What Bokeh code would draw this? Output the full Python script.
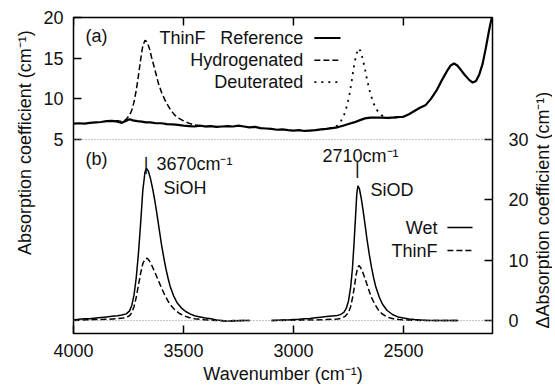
import math
from bokeh.plotting import figure
from bokeh.layouts import row
from bokeh.models import Range1d, LinearAxis, FixedTicker, Span
from bokeh.embed import file_html
from bokeh.resources import INLINE
from bokeh.core.properties import value

FONT = "Liberation Sans"
FS = "18px"

# ---------------- data ----------------
# Panel (a): absorption coefficient (cm^-1), left axis
ref_wn = [4000, 3975, 3950, 3925, 3900, 3875, 3850, 3825, 3800, 3780, 3760, 3745, 3730, 3710,
          3690, 3670, 3650, 3625, 3600, 3575, 3550, 3525, 3500, 3475, 3450, 3425, 3400, 3375,
          3350, 3325, 3300, 3275, 3250, 3225, 3200, 3175, 3150, 3125, 3100, 3075, 3050, 3025,
          3000, 2975, 2950, 2925, 2900, 2875, 2850, 2825, 2800, 2775, 2750, 2725, 2700, 2675,
          2650, 2625, 2600, 2575, 2550, 2525, 2500, 2475, 2450, 2425, 2400, 2375, 2350, 2325,
          2300, 2285, 2270, 2255, 2240, 2220, 2200, 2185, 2170, 2155, 2140, 2125, 2110, 2100, 2095]
ref_val = [6.95, 7.0, 6.95, 7.05, 7.1, 7.15, 7.25, 7.3, 7.2, 7.05, 7.3, 7.5, 7.35, 7.25,
           7.2, 7.1, 7.1, 7.0, 7.0, 6.9, 6.85, 6.8, 6.7, 6.65, 6.6, 6.7, 6.6, 6.65,
           6.55, 6.6, 6.65, 6.6, 6.7, 6.6, 6.5, 6.55, 6.4, 6.35, 6.3, 6.2, 6.25, 6.15,
           6.1, 6.15, 6.05, 6.1, 6.15, 6.25, 6.3, 6.4, 6.5, 6.7, 6.9, 7.1, 7.35, 7.6,
           7.7, 7.7, 7.7, 7.65, 7.7, 7.75, 7.8, 8.1, 8.5, 8.9, 9.2, 10.0, 11.0, 12.3,
           13.5, 14.1, 14.35, 14.1, 13.6, 12.9, 12.3, 12.0, 12.2, 13.0, 14.3, 16.3, 18.5, 19.8, 20.5]

hyd_wn = [3850, 3825, 3800, 3775, 3760, 3745, 3735, 3725, 3715, 3705, 3695, 3685, 3675, 3665,
          3655, 3645, 3630, 3615, 3600, 3580, 3560, 3540, 3520, 3500, 3475, 3450, 3425, 3400, 3375]
hyd_val = [7.25, 7.3, 7.3, 7.2, 7.5, 8.0, 8.6, 9.6, 11.0, 12.8, 14.8, 16.5, 17.2, 17.0,
           16.2, 15.1, 13.6, 12.0, 10.8, 9.6, 8.7, 8.0, 7.6, 7.3, 7.0, 6.8, 6.7, 6.6, 6.65]

deu_wn = [2900, 2875, 2850, 2825, 2800, 2785, 2770, 2755, 2745, 2735, 2725, 2715, 2705, 2695,
          2685, 2675, 2665, 2650, 2635, 2620, 2600, 2580, 2560, 2540, 2500]
deu_val = [6.15, 6.25, 6.3, 6.45, 6.7, 7.2, 8.0, 9.3, 10.6, 12.2, 14.0, 15.4, 16.2, 15.9,
           14.9, 13.7, 12.3, 10.6, 9.4, 8.6, 8.0, 7.7, 7.6, 7.7, 7.8]

# Panel (b): delta absorption coefficient (cm^-1), right axis
wet_oh_wn = [4000, 3975, 3950, 3925, 3900, 3875, 3850, 3825, 3800, 3780, 3760, 3745, 3735, 3725,
             3715, 3705, 3695, 3685, 3675, 3668, 3660, 3650, 3640, 3630, 3620, 3610, 3600, 3590,
             3580, 3570, 3560, 3545, 3530, 3510, 3490, 3470, 3450, 3425, 3400, 3375, 3350, 3325,
             3300, 3275, 3250, 3225, 3200]
wet_oh_val = [0.1, 0.2, 0.3, 0.3, 0.4, 0.5, 0.6, 0.7, 0.8, 0.9, 1.1, 1.6, 2.5, 4.2,
              7.0, 11.0, 16.0, 21.5, 24.6, 25.2, 24.8, 23.5, 21.8, 19.8, 17.5, 15.0, 12.6, 10.5,
              8.6, 7.0, 5.6, 4.1, 3.0, 2.1, 1.5, 1.1, 0.8, 0.6, 0.4, 0.3, 0.1, 0.0,
              -0.1, 0.0, -0.05, 0.0, 0.0]

thin_oh_wn = [4000, 3950, 3900, 3850, 3800, 3775, 3760, 3745, 3735, 3725, 3715, 3705, 3695, 3685,
              3675, 3665, 3655, 3645, 3630, 3615, 3600, 3585, 3570, 3555, 3540, 3520, 3500, 3475,
              3450, 3425, 3400, 3350, 3300, 3250, 3200]
thin_oh_val = [0.0, 0.1, 0.15, 0.2, 0.3, 0.4, 0.5, 0.8, 1.3, 2.3, 3.8, 5.8, 7.8, 9.4,
               10.2, 10.3, 9.9, 9.2, 8.0, 6.7, 5.4, 4.2, 3.2, 2.4, 1.8, 1.2, 0.8, 0.5,
               0.3, 0.2, 0.1, 0.0, -0.1, 0.0, 0.0]

wet_od_wn = [3100, 3075, 3050, 3025, 3000, 2975, 2950, 2925, 2900, 2875, 2850, 2825, 2800, 2785,
             2770, 2760, 2750, 2740, 2732, 2725, 2718, 2712, 2707, 2700, 2692, 2684, 2675, 2665,
             2655, 2645, 2635, 2625, 2610, 2595, 2575, 2550, 2525, 2500, 2475, 2450, 2425, 2400,
             2350, 2300, 2250]
wet_od_val = [0.0, 0.05, 0.1, 0.1, 0.15, 0.2, 0.3, 0.35, 0.45, 0.55, 0.65, 0.75, 0.85, 1.0,
              1.4, 2.0, 3.2, 5.5, 8.5, 12.5, 17.0, 21.0, 22.3, 21.8, 20.3, 18.4, 16.0, 13.3,
              10.9, 8.8, 7.0, 5.5, 3.9, 2.7, 1.7, 1.0, 0.6, 0.4, 0.25, 0.15, 0.1, 0.05,
              0.0, 0.0, 0.0]

thin_od_wn = [3100, 3000, 2900, 2850, 2800, 2780, 2765, 2750, 2740, 2730, 2722, 2715, 2708, 2702,
              2695, 2685, 2675, 2665, 2655, 2645, 2630, 2615, 2600, 2580, 2560, 2540, 2520, 2500,
              2450, 2400, 2300, 2250]
thin_od_val = [0.0, 0.05, 0.1, 0.15, 0.25, 0.4, 0.7, 1.3, 2.3, 4.0, 5.8, 7.6, 8.8, 9.1,
               8.8, 8.0, 7.0, 5.9, 4.8, 3.8, 2.7, 1.8, 1.2, 0.7, 0.4, 0.25, 0.15, 0.1,
               0.05, 0.0, 0.0, 0.0]

x_ticks = [4000, 3500, 3000, 2500]
left_ticks = [5, 10, 15, 20]
right_ticks = [0, 10, 20, 30]
peak_oh = 3670
peak_od = 2710

x_title = "Wavenumber (cm⁻¹)"
left_title = "Absorption coefficient (cm⁻¹)"
right_title = "ΔAbsorption coefficient (cm⁻¹)"

X_RANGE = (4000, 2095)
YB_RANGE = (-2.15, 50.2)     # panel (b) / right axis
YA_RANGE = (-18.85, 20)      # panel (a) / left axis
H = 389

# ---------------- main figure ----------------
p = figure(width=496, height=H, x_range=Range1d(*X_RANGE), y_range=Range1d(*YB_RANGE),
           x_axis_location=None, y_axis_location=None, toolbar_location=None,
           output_backend="svg", min_border_left=37, min_border_right=40,
           min_border_top=17, min_border_bottom=56)
p.extra_y_ranges = {"a": Range1d(*YA_RANGE)}
p.outline_line_color = "black"
p.outline_line_width = 1.5
p.background_fill_color = "white"
p.border_fill_color = "white"
p.xgrid.grid_line_color = None
p.ygrid.grid_line_color = None


def style(ax):
    ax.axis_line_color = None
    ax.major_tick_in = 8
    ax.major_tick_out = 0
    ax.major_tick_line_width = 1.5
    ax.major_tick_line_color = "black"
    ax.minor_tick_line_color = None
    ax.major_label_text_font = FONT
    ax.major_label_text_font_size = FS
    ax.major_label_text_color = "#111111"
    ax.axis_label_text_font = FONT
    ax.axis_label_text_font_size = FS
    ax.axis_label_text_font_style = "normal"
    ax.axis_label_text_color = "#111111"


bottom = LinearAxis(ticker=FixedTicker(ticks=x_ticks), axis_label=x_title)
style(bottom)
bottom.major_label_standoff = 10
bottom.axis_label_standoff = 4
p.add_layout(bottom, "below")

left = LinearAxis(y_range_name="a", ticker=FixedTicker(ticks=left_ticks))
style(left)
left.major_label_standoff = 10
p.add_layout(left, "left")

right = LinearAxis(ticker=FixedTicker(ticks=right_ticks))
style(right)
right.major_label_standoff = 16
p.add_layout(right, "right")

# top-edge tick marks (mirror of bottom ticks, 8 px long)
tick_len = 8 * (YB_RANGE[1] - YB_RANGE[0]) / 316
p.segment(x0=x_ticks, x1=x_ticks, y0=[YB_RANGE[1]] * len(x_ticks),
          y1=[YB_RANGE[1] - tick_len] * len(x_ticks), line_color="black", line_width=1.5)

# separators
p.add_layout(Span(location=30, dimension="width", line_color="#888888",
                  line_dash="1 2", line_width=1))
p.add_layout(Span(location=0, dimension="width", line_color="#888888",
                  line_dash="1 2", line_width=1))

# panel (a) curves
p.line(ref_wn, ref_val, y_range_name="a", line_color="black", line_width=2.2)
p.line(hyd_wn, hyd_val, y_range_name="a", line_color="black", line_width=1.5, line_dash="6 3")
p.line(deu_wn, deu_val, y_range_name="a", line_color="black", line_width=1.8, line_dash="2 5")

# panel (b) curves
p.line(wet_oh_wn, wet_oh_val, line_color="black", line_width=1.5)
p.line(thin_oh_wn, thin_oh_val, line_color="black", line_width=1.5, line_dash="6 3")
p.line(wet_od_wn, wet_od_val, line_color="black", line_width=1.5)
p.line(thin_od_wn, thin_od_val, line_color="black", line_width=1.5, line_dash="6 3")


def txt(fig, x, y, s, align="left", angle=0.0):
    fig.text(x=[x], y=[y], text=[s], text_font=value(FONT), text_font_size=FS,
             text_align=align, text_baseline="middle", text_color="#111111", angle=angle)


# panel labels
txt(p, 3945, 47.1, "(a)")
txt(p, 3945, 26.7, "(b)")

# legend (a)
txt(p, 3400, 46.8, "ThinF", align="right")
txt(p, 2955, 46.8, "Reference", align="right")
txt(p, 2955, 43.1, "Hydrogenated", align="right")
txt(p, 2955, 39.5, "Deuterated", align="right")
p.line([2905, 2786], [46.8, 46.8], line_color="black", line_width=2.2)
p.line([2905, 2786], [43.1, 43.1], line_color="black", line_width=1.5, line_dash="6 3")
p.line([2905, 2786], [39.5, 39.5], line_color="black", line_width=1.8, line_dash="2 5")

# legend (b)
txt(p, 2345, 15.4, "Wet", align="right")
txt(p, 2345, 11.6, "ThinF", align="right")
p.line([2300, 2186], [15.4, 15.4], line_color="black", line_width=1.5)
p.line([2300, 2186], [11.6, 11.6], line_color="black", line_width=1.5, line_dash="6 3")

# peak annotations
txt(p, peak_oh, 26.0, "|", align="center")
txt(p, 3623, 26.0, "3670cm⁻¹")
txt(p, 3591, 21.9, "SiOH")
txt(p, 2695, 27.2, "2710cm⁻¹", align="center")
txt(p, peak_od, 25.2, "|", align="center")
txt(p, 2650, 21.7, "SiOD")


# ---------------- side strips carrying the vertical axis titles ----------------
def strip(w):
    f = figure(width=w, height=H, x_range=Range1d(0, 1), y_range=Range1d(0, 1),
               x_axis_location=None, y_axis_location=None, toolbar_location=None,
               output_backend="svg", min_border=0)
    f.outline_line_color = None
    f.xgrid.grid_line_color = None
    f.ygrid.grid_line_color = None
    f.background_fill_color = "white"
    f.border_fill_color = "white"
    return f


pl = strip(36)
txt(pl, 0.667, 1 - 154 / H, left_title, align="center", angle=math.pi / 2)
pr = strip(20)
txt(pr, 0.5, 1 - 237 / H, right_title, align="center", angle=math.pi / 2)

layout = row(pl, p, pr, spacing=0)
open("out.html", "w").write(file_html(layout, INLINE))
